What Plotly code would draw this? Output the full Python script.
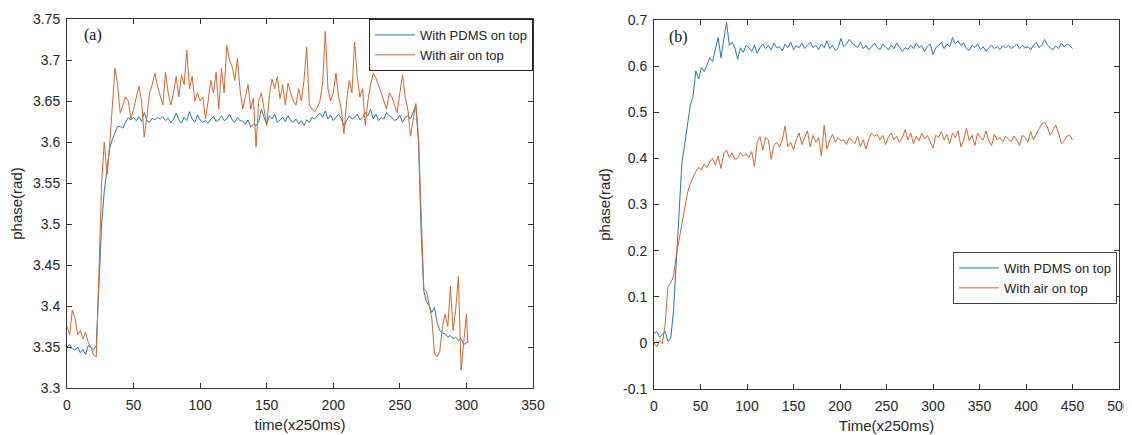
import plotly.graph_objects as go

# ---------------- data: panel (a) ----------------
time_a = list(range(0, 301, 2)) + [301]
pdms_a = [
    3.350, 3.353, 3.348, 3.346, 3.350, 3.343, 3.347, 3.341, 3.352, 3.349,   # 0
    3.346, 3.352, 3.420, 3.500, 3.540, 3.568, 3.592, 3.603, 3.612, 3.619,   # 20
    3.619, 3.617, 3.624, 3.630, 3.627, 3.630, 3.626, 3.631, 3.625, 3.636,   # 40
    3.626, 3.624, 3.629, 3.627, 3.630, 3.628, 3.631, 3.626, 3.629, 3.624,   # 60
    3.628, 3.635, 3.627, 3.623, 3.630, 3.626, 3.637, 3.628, 3.624, 3.633,   # 80
    3.627, 3.624, 3.626, 3.623, 3.628, 3.631, 3.625, 3.627, 3.632, 3.626,   # 100
    3.628, 3.634, 3.627, 3.624, 3.630, 3.626, 3.625, 3.622, 3.627, 3.618,   # 120
    3.622, 3.620, 3.625, 3.640, 3.630, 3.622, 3.632, 3.628, 3.634, 3.624,   # 140
    3.627, 3.630, 3.625, 3.632, 3.626, 3.624, 3.628, 3.622, 3.626, 3.620,   # 160
    3.627, 3.624, 3.630, 3.628, 3.632, 3.635, 3.630, 3.638, 3.628, 3.633,   # 180
    3.626, 3.630, 3.634, 3.628, 3.620, 3.626, 3.632, 3.628, 3.630, 3.634,   # 200
    3.627, 3.630, 3.636, 3.632, 3.640, 3.628, 3.634, 3.626, 3.630, 3.628,   # 220
    3.636, 3.632, 3.630, 3.626, 3.628, 3.633, 3.624, 3.630, 3.632, 3.628,   # 240
    3.636, 3.645, 3.600, 3.490, 3.418, 3.405, 3.400, 3.392, 3.398, 3.380,   # 260
    3.370, 3.367, 3.366, 3.362, 3.364, 3.360, 3.362, 3.358, 3.360, 3.353,   # 280
    3.355, 3.357,                                                           # 300, 301
]
air_a = [
    3.375, 3.365, 3.395, 3.385, 3.365, 3.370, 3.360, 3.368, 3.355, 3.350,   # 0
    3.340, 3.338, 3.440, 3.550, 3.600, 3.560, 3.595, 3.640, 3.690, 3.670,   # 20
    3.635, 3.645, 3.655, 3.650, 3.628, 3.640, 3.655, 3.668, 3.650, 3.606,   # 40
    3.630, 3.660, 3.670, 3.684, 3.668, 3.655, 3.645, 3.685, 3.660, 3.645,   # 60
    3.660, 3.680, 3.655, 3.682, 3.670, 3.712, 3.665, 3.680, 3.650, 3.660,   # 80
    3.650, 3.655, 3.628, 3.650, 3.675, 3.660, 3.685, 3.640, 3.690, 3.660,   # 100
    3.718, 3.700, 3.692, 3.675, 3.702, 3.663, 3.640, 3.655, 3.670, 3.640,   # 120
    3.654, 3.594, 3.650, 3.660, 3.640, 3.620, 3.657, 3.677, 3.665, 3.680,   # 140
    3.653, 3.670, 3.645, 3.672, 3.660, 3.650, 3.645, 3.665, 3.650, 3.675,   # 160
    3.716, 3.645, 3.640, 3.637, 3.642, 3.650, 3.672, 3.735, 3.665, 3.650,   # 180
    3.660, 3.684, 3.655, 3.640, 3.610, 3.650, 3.675, 3.660, 3.722, 3.680,   # 200
    3.655, 3.665, 3.620, 3.650, 3.670, 3.684, 3.678, 3.670, 3.660, 3.650,   # 220
    3.640, 3.660, 3.655, 3.645, 3.636, 3.660, 3.682, 3.655, 3.640, 3.607,   # 240
    3.630, 3.647, 3.605, 3.500, 3.420, 3.418, 3.400, 3.385, 3.342, 3.338,   # 260
    3.345, 3.375, 3.390, 3.375, 3.424, 3.370, 3.397, 3.436, 3.322, 3.355,   # 280
    3.390, 3.355,                                                           # 300, 301
]

# ---------------- data: panel (b) ----------------
time_b = list(range(0, 451, 3))
pdms_b = [
    0.020, 0.025, 0.012, 0.018, 0.025, 0.003, 0.010, 0.070, 0.170, 0.275,   # 0
    0.390, 0.430, 0.470, 0.515, 0.535, 0.590, 0.572, 0.597, 0.588, 0.602,   # 30
    0.618, 0.610, 0.640, 0.662, 0.618, 0.655, 0.695, 0.645, 0.652, 0.640,   # 60
    0.615, 0.640, 0.630, 0.645, 0.640, 0.632, 0.645, 0.628, 0.640, 0.648,   # 90
    0.638, 0.645, 0.635, 0.650, 0.640, 0.642, 0.633, 0.648, 0.640, 0.652,   # 120
    0.636, 0.644, 0.640, 0.650, 0.638, 0.646, 0.652, 0.640, 0.645, 0.636,   # 150
    0.648, 0.640, 0.655, 0.638, 0.645, 0.634, 0.640, 0.660, 0.642, 0.648,   # 180
    0.658, 0.650, 0.644, 0.640, 0.652, 0.638, 0.645, 0.635, 0.642, 0.650,   # 210
    0.640, 0.636, 0.648, 0.642, 0.635, 0.646, 0.638, 0.650, 0.640, 0.632,   # 240
    0.640, 0.636, 0.645, 0.638, 0.650, 0.640, 0.644, 0.632, 0.642, 0.648,   # 270
    0.625, 0.640, 0.645, 0.652, 0.638, 0.648, 0.642, 0.662, 0.648, 0.655,   # 300
    0.645, 0.650, 0.638, 0.634, 0.645, 0.640, 0.648, 0.636, 0.642, 0.632,   # 330
    0.640, 0.645, 0.638, 0.642, 0.636, 0.644, 0.640, 0.645, 0.638, 0.642,   # 360
    0.648, 0.638, 0.645, 0.640, 0.642, 0.635, 0.645, 0.652, 0.640, 0.645,   # 390
    0.658, 0.646, 0.640, 0.636, 0.644, 0.638, 0.650, 0.642, 0.648, 0.645,   # 420
    0.638,                                                                  # 450
]
air_b = [
    0.000, -0.008, 0.005, -0.002, 0.040, 0.122, 0.130, 0.145, 0.190, 0.222,  # 0
    0.255, 0.285, 0.325, 0.345, 0.358, 0.372, 0.380, 0.375, 0.388, 0.380,    # 30
    0.392, 0.400, 0.385, 0.405, 0.378, 0.410, 0.418, 0.402, 0.412, 0.398,    # 60
    0.400, 0.412, 0.405, 0.410, 0.402, 0.415, 0.382, 0.435, 0.447, 0.418,    # 90
    0.445, 0.440, 0.398, 0.428, 0.435, 0.425, 0.440, 0.470, 0.425, 0.435,    # 120
    0.418, 0.440, 0.455, 0.430, 0.445, 0.460, 0.425, 0.450, 0.435, 0.445,    # 150
    0.405, 0.472, 0.420, 0.440, 0.452, 0.435, 0.445, 0.438, 0.440, 0.430,    # 180
    0.445, 0.438, 0.432, 0.448, 0.425, 0.440, 0.420, 0.442, 0.455, 0.448,    # 210
    0.452, 0.440, 0.450, 0.430, 0.446, 0.455, 0.440, 0.448, 0.435, 0.445,    # 240
    0.462, 0.440, 0.455, 0.432, 0.448, 0.438, 0.455, 0.442, 0.450, 0.436,    # 270
    0.422, 0.450, 0.445, 0.458, 0.440, 0.452, 0.432, 0.455, 0.445, 0.460,    # 300
    0.425, 0.440, 0.465, 0.438, 0.450, 0.428, 0.455, 0.445, 0.440, 0.460,    # 330
    0.438, 0.428, 0.452, 0.440, 0.445, 0.435, 0.448, 0.442, 0.436, 0.448,    # 360
    0.440, 0.428, 0.450, 0.445, 0.435, 0.458, 0.440, 0.452, 0.465, 0.475,    # 390
    0.478, 0.468, 0.450, 0.462, 0.472, 0.455, 0.432, 0.438, 0.448, 0.450,    # 420
    0.440,                                                                   # 450
]

series_names = ["With PDMS on top", "With air on top"]

xticks_a = [0, 50, 100, 150, 200, 250, 300, 350]
yticks_a = [3.3, 3.35, 3.4, 3.45, 3.5, 3.55, 3.6, 3.65, 3.7, 3.75]
yticktext_a = ["3.3", "3.35", "3.4", "3.45", "3.5", "3.55", "3.6", "3.65", "3.7", "3.75"]
xticks_b = [0, 50, 100, 150, 200, 250, 300, 350, 400, 450, 500]
yticks_b = [-0.1, 0, 0.1, 0.2, 0.3, 0.4, 0.5, 0.6, 0.7]
yticktext_b = ["-0.1", "0", "0.1", "0.2", "0.3", "0.4", "0.5", "0.6", "0.7"]

# ---------------- figure ----------------
OFF = 8                      # page body margin of the browser
W, H = 1132 - OFF, 435 - OFF
BLUE = "#2479b2"
ORANGE = "#d3672f"
AX = "#333333"
FONT = "Liberation Sans, Arial, sans-serif"

fig = go.Figure()
fig.add_trace(go.Scatter(x=time_a, y=pdms_a, mode="lines", name=series_names[0],
                         line=dict(color=BLUE, width=1), xaxis="x", yaxis="y", legend="legend"))
fig.add_trace(go.Scatter(x=time_a, y=air_a, mode="lines", name=series_names[1],
                         line=dict(color=ORANGE, width=1), xaxis="x", yaxis="y", legend="legend"))
fig.add_trace(go.Scatter(x=time_b, y=pdms_b, mode="lines", name=series_names[0],
                         line=dict(color=BLUE, width=1), xaxis="x2", yaxis="y2", legend="legend2"))
fig.add_trace(go.Scatter(x=time_b, y=air_b, mode="lines", name=series_names[1],
                         line=dict(color=ORANGE, width=1), xaxis="x2", yaxis="y2", legend="legend2"))

def px_x(p):
    return (p - OFF) / W

def px_y(p):
    return 1 - (p - OFF) / H

axis_common = dict(showline=True, linecolor=AX, linewidth=1, mirror="ticks",
                   ticks="inside", ticklen=5, tickcolor=AX, showgrid=False, zeroline=False,
                   tickfont=dict(family=FONT, size=14, color="#262626"), automargin=False)
xt = dict(ticklabelstandoff=4)
yt = dict(ticklabelstandoff=3)

fig.update_layout(
    width=W, height=H,
    margin=dict(l=0, r=0, t=0, b=0),
    paper_bgcolor="white", plot_bgcolor="white",
    font=dict(family=FONT, color="#262626"),
    xaxis=dict(domain=[px_x(67), px_x(533)], range=[0, 350], tickvals=xticks_a,
               anchor="y",
               title=dict(text="time(x250ms)", font=dict(family=FONT, size=15), standoff=7),
               **axis_common, **xt),
    yaxis=dict(domain=[px_y(388), px_y(19)], range=[3.3, 3.75], tickvals=yticks_a,
               ticktext=yticktext_a, anchor="x",
               title=dict(text="phase(rad)", font=dict(family=FONT, size=15), standoff=6),
               **axis_common, **yt),
    xaxis2=dict(domain=[px_x(654), px_x(1119)], range=[0, 500], tickvals=xticks_b,
                anchor="y2",
                title=dict(text="Time(x250ms)", font=dict(family=FONT, size=15), standoff=7),
                **axis_common, **xt),
    yaxis2=dict(domain=[px_y(389), px_y(20)], range=[-0.1, 0.7], tickvals=yticks_b,
                ticktext=yticktext_b, anchor="x2",
                title=dict(text="phase(rad)", font=dict(family=FONT, size=15), standoff=8),
                **axis_common, **yt),
    legend=dict(x=px_x(533), y=px_y(19), xanchor="right", yanchor="top",
                bgcolor="white", bordercolor="#222222", borderwidth=1,
                font=dict(family=FONT, size=13, color="#222222"),
                tracegroupgap=0, itemwidth=40),
    legend2=dict(x=px_x(1117), y=px_y(252), xanchor="right", yanchor="top",
                 bgcolor="white", bordercolor="#444444", borderwidth=1,
                 font=dict(family=FONT, size=13, color="#222222"),
                 tracegroupgap=0, itemwidth=40),
    showlegend=True,
    annotations=[
        dict(text="(a)", x=px_x(82), y=px_y(35), xref="paper", yref="paper",
             xanchor="left", yanchor="middle", showarrow=False,
             font=dict(family="Liberation Serif, Times New Roman, serif", size=16, color="#111111")),
        dict(text="(b)", x=px_x(667), y=px_y(37), xref="paper", yref="paper",
             xanchor="left", yanchor="middle", showarrow=False,
             font=dict(family="Liberation Serif, Times New Roman, serif", size=16, color="#111111")),
    ],
)

fig.write_html("out.html")
